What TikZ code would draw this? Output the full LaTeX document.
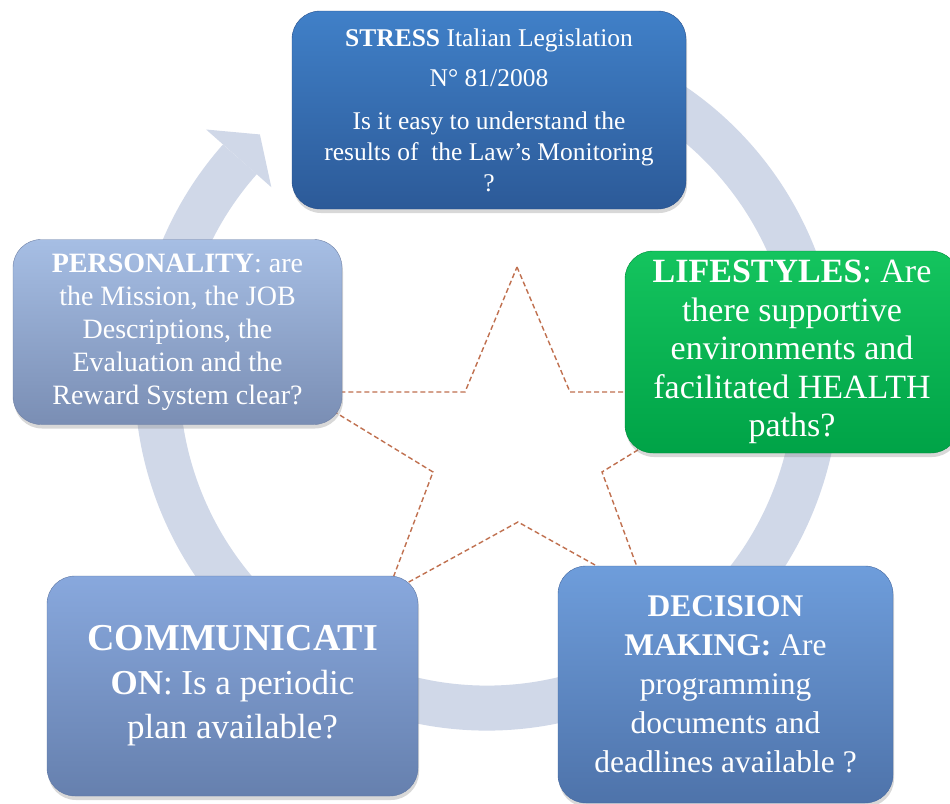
\documentclass[tikz,border=0pt]{standalone}
\usepackage{fontspec}
\setmainfont{Liberation Serif}
\usepackage{tikz}
\usetikzlibrary{shadows, positioning}
\definecolor{ringgrey}{HTML}{D0D8E8}
\definecolor{stardash}{HTML}{C0704F}
\tikzset{%
% Specifications for style of nodes:
base/.style = {rounded corners=28pt, inner sep=0pt, align=center, text=white,
    drop shadow={shadow xshift=1pt, shadow yshift=-4pt, opacity=0.3}},
stressbox/.style = {base, top color={rgb,255:red,64;green,128;blue,200}, bottom color={rgb,255:red,44;green,90;blue,152}, draw={rgb,255:red,40;green,80;blue,140}},
personbox/.style = {base, top color={rgb,255:red,166;green,190;blue,228}, bottom color={rgb,255:red,122;green,142;blue,180}, draw={rgb,255:red,110;green,128;blue,165}},
lifebox/.style = {base, top color={rgb,255:red,20;green,196;blue,94}, bottom color={rgb,255:red,0;green,163;blue,71}, draw={rgb,255:red,0;green,140;blue,60}},
commbox/.style = {base, top color={rgb,255:red,136;green,168;blue,221}, bottom color={rgb,255:red,102;green,128;blue,174}, draw={rgb,255:red,95;green,120;blue,165}},
decibox/.style = {base, top color={rgb,255:red,110;green,157;blue,219}, bottom color={rgb,255:red,78;green,115;blue,170}, draw={rgb,255:red,70;green,105;blue,160}},
}

\begin{document}
\begin{tikzpicture}[x=1pt, y=1pt]
    \useasboundingbox (0,0) rectangle (950,-803);
    \fill[white] (0,0) rectangle (950,-803);

    % Cycle arrow behind the boxes
    \coordinate (hub) at (487,-378);
    \draw[ringgrey, line width=45pt, shift={(hub)}] (70:330) arc[start angle=70, end angle=-221.5, radius=330];
    \fill[ringgrey, shift={(hub)}] (138.5:288) -- (133:333) -- (138.5:375) -- cycle;

    % Dashed star
    \draw[stardash, line width=1.4pt, dash pattern=on 5pt off 3pt] (517,-267) -- (570,-392) -- (732,-392) -- (602,-472) -- (647,-594) -- (518,-522) -- (387,-594) -- (433,-472) -- (302,-392) -- (465,-392) -- cycle;

    % Specification of nodes (position, etc.)
    \node (stress) [stressbox, minimum width=394pt, minimum height=198pt, font=\fontsize{25.5}{31}\selectfont] at (489,-110)
        {\textbf{STRESS} Italian Legislation\\[9pt] N° 81/2008\\[12pt] Is it easy to understand the\\ results of\ \ the Law’s Monitoring\\ ?};
    \node (personality) [personbox, minimum width=329pt, minimum height=185pt, font=\fontsize{28}{33}\selectfont] at (177.5,-332)
        {\textbf{PERSONALITY}: are\\ the Mission, the JOB\\ Descriptions, the\\ Evaluation and the\\ Reward System clear?};
    \node (lifestyles) [lifebox, minimum width=334pt, minimum height=202pt, font=\fontsize{34}{38.5}\selectfont] at (792,-352)
        {\textbf{LIFESTYLES}: Are\\ there supportive\\ environments and\\ facilitated HEALTH\\ paths?};
    \node (communication) [commbox, minimum width=371pt, minimum height=220pt, font=\fontsize{35}{44}\selectfont] at (232.5,-686)
        {{\fontsize{38}{44}\selectfont\textbf{COMMUNICATI}}\\ \textbf{ON}: Is a periodic\\ plan available?};
    \node (decision) [decibox, minimum width=335pt, minimum height=237pt, font=\fontsize{31.5}{39}\selectfont] at (725.5,-684.5)
        {\textbf{DECISION}\\ \textbf{MAKING:} Are\\ programming\\ documents and\\ deadlines available ?};
\end{tikzpicture}
\end{document}
